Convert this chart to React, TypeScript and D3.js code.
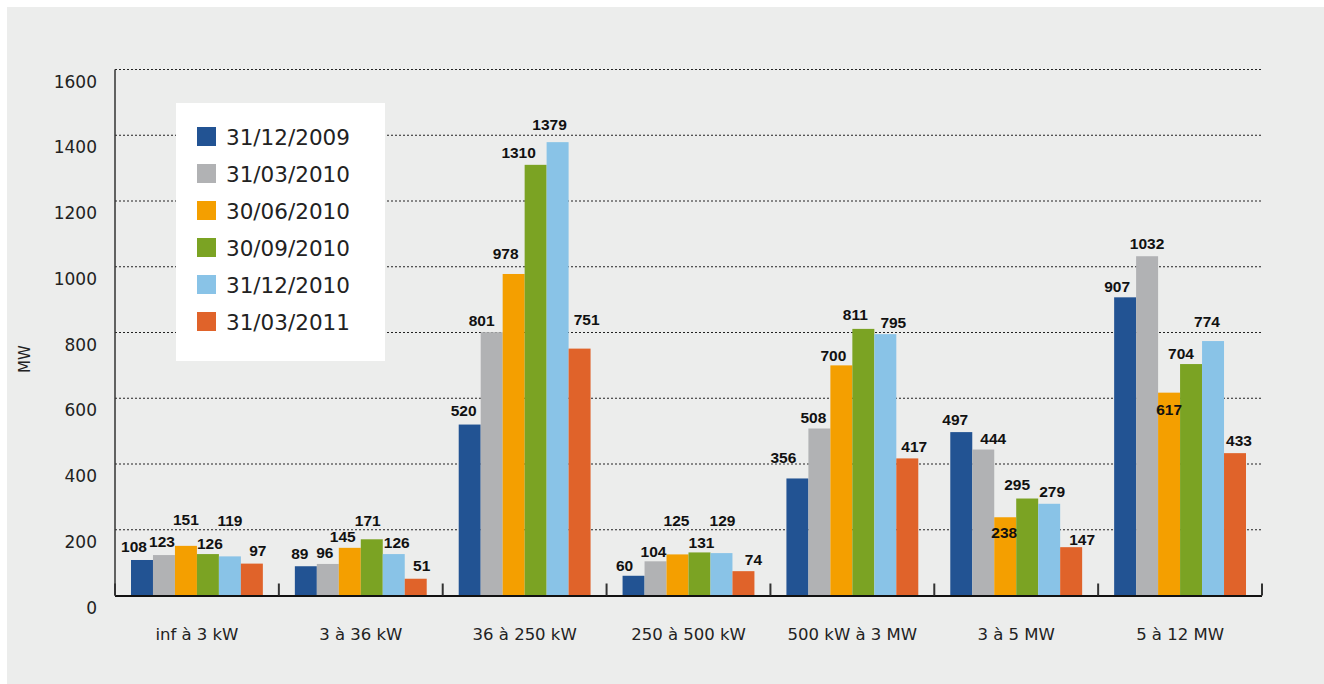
import React from "react";
import * as d3 from "d3";

const categories = ["inf à 3 kW", "3 à 36 kW", "36 à 250 kW", "250 à 500 kW", "500 kW à 3 MW", "3 à 5 MW", "5 à 12 MW"];
const seriesNames = ["31/12/2009", "31/03/2010", "30/06/2010", "30/09/2010", "31/12/2010", "31/03/2011"];
const s2009_12 = [108, 89, 520, 60, 356, 497, 907];
const s2010_03 = [123, 96, 801, 104, 508, 444, 1032];
const s2010_06 = [151, 145, 978, 125, 700, 238, 617];
const s2010_09 = [126, 171, 1310, 131, 811, 295, 704];
const s2010_12 = [119, 126, 1379, 129, 795, 279, 774];
const s2011_03 = [97, 51, 751, 74, 417, 147, 433];
const seriesValues = [s2009_12, s2010_03, s2010_06, s2010_09, s2010_12, s2011_03];
const yTicks = [0, 200, 400, 600, 800, 1000, 1200, 1400, 1600];

const colors = ["#225393", "#B1B2B4", "#F49F00", "#7BA323", "#89C3E7", "#E0632A"];

// label nudges per category (rows) and series (cols): gap above bar top, horizontal shift
const labelGap = [
  [13, 14, 26, 11, 36, 13],
  [13, 11, 11, 19, 12, 13],
  [14, 12, 20, 12, 18, 29],
  [10, 10, 34, 10, 33, 12],
  [21, 11, 10, 14, 12, 12],
  [13, 11, -15, 14, 12, 8],
  [11, 13, -17, 11, 20, 13],
];
const labelShift = [
  [-8, -2, 0, 2, 0, 6],
  [-6, -3, -7, -4, 3, 6],
  [-6, -10, -8, -17, -8, 7],
  [-9, -2, -1, 2, 1, 10],
  [-14, -6, -8, -8, 8, 7],
  [-6, 10, -1, -10, 3, 11],
  [-8, 0, 0, -10, -6, 4],
];

const W = 1324;
const H = 684;
const left = 115;
const right = 1262;
const top = 69.5;
const bottom = 595.5;
const FONT = "'DejaVu Sans', Verdana, sans-serif";

export default function App() {
  const x = d3.scaleBand<string>().domain(categories).range([left, right]).padding(0);
  const bw = x.bandwidth();
  const xs = d3.scaleBand<string>().domain(seriesNames).range([16, bw - 16]).padding(0);
  const y = d3.scaleLinear().domain([0, 1600]).range([bottom, top]);

  const boundaries = d3.range(categories.length + 1).map((i) => left + i * bw);

  return (
    <svg width={W} height={H} style={{ position: "absolute", left: 0, top: 0 }}>
      <rect x={0} y={0} width={W} height={H} fill="#ffffff" />
      <rect x={7} y={7} width={W - 7} height={H - 7} fill="#ECEDEC" />

      {yTicks.filter((t) => t > 0).map((t) => (
        <line key={t} x1={left} x2={right} y1={y(t)} y2={y(t)} stroke="#222" strokeWidth={1.2} strokeDasharray="2,2" />
      ))}

      {yTicks.map((t) => (
        <text key={t} x={97} y={y(t) + 12} textAnchor="end" dominantBaseline="central" fontFamily={FONT} fontSize={17} fill="#222">
          {t}
        </text>
      ))}

      <text transform={`translate(25,359) rotate(-90)`} textAnchor="middle" dominantBaseline="central" fontFamily={FONT} fontSize={15} fill="#222">
        MW
      </text>

      {categories.map((c, ci) =>
        seriesNames.map((s, si) => {
          const v = seriesValues[si][ci];
          const bx = (x(c) as number) + (xs(s) as number);
          return (
            <rect key={c + s} x={bx} y={y(v)} width={xs.bandwidth()} height={bottom - y(v)} fill={colors[si]} />
          );
        })
      )}

      {/* axes */}
      <line x1={left} x2={left} y1={top} y2={bottom} stroke="#333" strokeWidth={1.5} />
      <line x1={left} x2={right} y1={bottom + 0.5} y2={bottom + 0.5} stroke="#111" strokeWidth={2} />
      {boundaries.map((bx, i) => (
        <line key={i} x1={bx} x2={bx} y1={bottom - 12} y2={bottom} stroke="#333" strokeWidth={2} />
      ))}

      {categories.map((c, ci) =>
        seriesNames.map((s, si) => {
          const v = seriesValues[si][ci];
          const cx = (x(c) as number) + (xs(s) as number) + xs.bandwidth() / 2 + labelShift[ci][si];
          return (
            <text key={"l" + c + s} x={cx} y={y(v) - labelGap[ci][si]} textAnchor="middle" dominantBaseline="central"
              fontFamily="'Liberation Sans', Arial, sans-serif" fontWeight="bold" fontSize={15.5} fill="#111">
              {v}
            </text>
          );
        })
      )}

      {categories.map((c) => (
        <text key={"x" + c} x={(x(c) as number) + bw / 2} y={634} textAnchor="middle" dominantBaseline="central"
          fontFamily={FONT} fontSize={16.5} fill="#222">
          {c}
        </text>
      ))}

      {/* legend */}
      <rect x={176} y={103} width={209} height={258} fill="#ffffff" />
      {seriesNames.map((s, i) => (
        <g key={"lg" + s} transform={`translate(197,${127 + i * 37})`}>
          <rect x={0} y={0} width={19} height={19} fill={colors[i]} />
          <text x={29} y={10} dominantBaseline="central" fontFamily={FONT} fontSize={21.5} fill="#222">
            {s}
          </text>
        </g>
      ))}
    </svg>
  );
}
